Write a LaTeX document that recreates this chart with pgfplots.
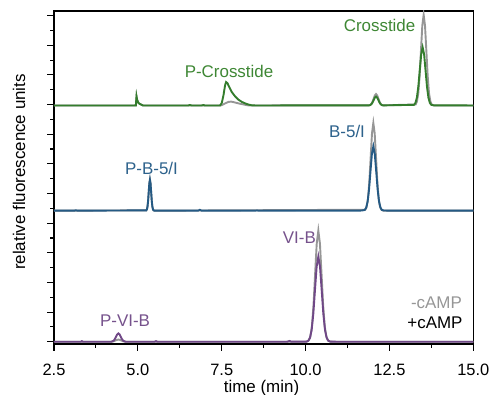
\documentclass[border=0pt]{standalone}
\usepackage{pgfplots}
\pgfplotsset{compat=1.18}
\usepackage{fontspec}
\setmainfont{Liberation Sans}
\definecolor{cgreen}{RGB}{52,125,45}
\definecolor{cblue}{RGB}{37,90,132}
\definecolor{cpurple}{RGB}{112,72,135}
\definecolor{cgray}{RGB}{150,150,150}
\definecolor{tgreen}{RGB}{62,135,52}
\definecolor{tblue}{RGB}{45,98,140}
\definecolor{tpurple}{RGB}{118,82,140}
\begin{document}
\begin{tikzpicture}
\useasboundingbox (0,0) rectangle (489bp,395bp);
\begin{axis}[
  at={(54bp,51bp)}, anchor=south west,
  scale only axis, width=419.3bp, height=333bp,
  xmin=2.5, xmax=15, ymin=-0.155, ymax=22.315,
  xtick={2.5,5,7.5,10,12.5,15}, minor x tick num=1,
  ytick={0,2,...,22}, minor y tick num=1, yticklabels={},
  xtick pos=bottom, ytick pos=left,
  tick align=outside,
  major tick length=6.5bp, minor tick length=3.5bp,
  every tick/.style={black, line width=1.1bp},
  axis line style={line width=1.2bp},
  /pgf/number format/assume math mode=true,
  x tick label style={yshift=-10bp, /pgf/number format/.cd, fixed, fixed zerofill, precision=1},
  tick label style={font=\fontsize{16.5}{19}\selectfont},
  label style={font=\fontsize{17}{20}\selectfont},
  xlabel={time (min)},
  ylabel={relative fluorescence units},
  xlabel style={at={(axis description cs:0.495,-0.132)}, anchor=center},
  ylabel style={at={(axis description cs:-0.0835,0.5165)}, anchor=center},
  clip=true,
]
% ---------- VI-B (purple) ----------
\addplot[cgray, line width=1.9bp] coordinates {
(2.5,0) (4.2,0) (4.28,0.03) (4.35,0.1) (4.42,0.15) (4.49,0.1) (4.56,0.03) (4.64,0)
(10.0,0) (10.044,0.015) (10.092,0.083) (10.14,0.33) (10.188,1.013) (10.236,2.438) (10.284,4.553) (10.332,6.615)
(10.38,7.5) (10.428,6.615) (10.476,4.553) (10.524,2.438) (10.572,1.013) (10.62,0.33) (10.668,0.083) (10.716,0.015)
(10.8,0) (15,0)};
\addplot[cpurple, line width=1.9bp] coordinates {
(2.5,0) (3.3,0) (3.33,0.04) (3.36,0) (4.21,0) (4.245,0.025) (4.28,0.076) (4.315,0.182) (4.35,0.34) (4.385,0.494)
(4.42,0.56) (4.455,0.494) (4.49,0.34) (4.525,0.182) (4.56,0.076) (4.595,0.025) (4.63,0)
(5.5,0) (5.54,0.04) (5.58,0) (9.45,0) (9.52,0.05) (9.58,0)
(10.03,0.01) (10.08,0.063) (10.13,0.253) (10.18,0.775) (10.23,1.866) (10.28,3.484) (10.33,5.063)
(10.38,5.74) (10.43,5.063) (10.48,3.484) (10.53,1.866) (10.58,0.775) (10.63,0.253) (10.68,0.063) (10.73,0.01)
(10.9,0) (15,0)};
% ---------- B-5/I (blue) ----------
\addplot[cgray, line width=1.9bp] coordinates {
(2.5,8.84) (5.252,8.863) (5.27,8.932) (5.288,9.124) (5.306,9.519) (5.324,10.109) (5.342,10.683) (5.36,10.93)
(5.378,10.683) (5.396,10.109) (5.414,9.519) (5.432,9.124) (5.45,8.932) (5.468,8.863) (5.5,8.84)
(11.78,8.905) (11.82,9.1) (11.86,9.639) (11.9,10.764) (11.94,12.433) (11.98,14.061) (12.02,14.76)
(12.06,14.061) (12.1,12.433) (12.14,10.764) (12.18,9.639) (12.22,9.1) (12.26,8.905) (12.32,8.84) (15,8.84)};
\addplot[cblue, line width=1.9bp] coordinates {
(2.5,8.84) (3.1,8.84) (3.15,8.87) (3.2,8.84)
(5.252,8.863) (5.27,8.932) (5.288,9.124) (5.306,9.519) (5.324,10.109) (5.342,10.683) (5.36,10.93)
(5.378,10.683) (5.396,10.109) (5.414,9.519) (5.432,9.124) (5.45,8.932) (5.468,8.863) (5.5,8.84)
(6.8,8.84) (6.85,8.9) (6.9,8.84) (8.5,8.84) (8.55,8.86) (8.6,8.84)
(11.6,8.84) (11.7,8.86) (11.762,8.888) (11.805,9.031) (11.848,9.426) (11.891,10.251) (11.934,11.474) (11.977,12.668)
(12.02,13.18) (12.063,12.668) (12.106,11.474) (12.149,10.251) (12.192,9.426) (12.235,9.031) (12.278,8.888)
(12.34,8.85) (15,8.84)};
% ---------- Crosstide (green) ----------
\addplot[cgray, line width=1.9bp] coordinates {
(2.5,15.94) (4.94,15.94) (4.96,16.55) (4.98,16.3) (5.02,16.1) (5.08,16.02) (5.15,15.94)
(7.45,15.94) (7.5,15.96) (7.6,16.08) (7.7,16.18) (7.78,16.2) (7.9,16.14) (8.0,16.08) (8.15,16.01) (8.3,15.94)
(11.89,15.948) (11.925,15.974) (11.96,16.044) (11.995,16.19) (12.03,16.407) (12.065,16.619) (12.1,16.71)
(12.135,16.619) (12.17,16.407) (12.205,16.19) (12.24,16.044) (12.275,15.974) (12.31,15.948)
(13.28,16.007) (13.32,16.209) (13.36,16.766) (13.4,17.929) (13.44,19.655) (13.48,21.338) (13.52,22.06)
(13.56,21.338) (13.6,19.655) (13.64,17.929) (13.68,16.766) (13.72,16.209) (13.76,16.007) (13.82,15.94) (15,15.94)};
\addplot[cgreen, line width=1.9bp] coordinates {
(2.5,15.94) (4.94,15.94) (4.96,16.55) (4.98,16.3) (5.02,16.1) (5.08,16.02) (5.15,15.94)
(6.5,15.94) (6.55,15.97) (6.6,15.94) (6.9,15.94) (6.95,15.97) (7.0,15.94)
(7.45,15.94) (7.5,16.1) (7.55,16.6) (7.6,17.3) (7.63,17.52) (7.67,17.45) (7.72,17.2) (7.8,16.85)
(7.9,16.55) (8.0,16.33) (8.1,16.18) (8.2,16.08) (8.3,16.0) (8.4,15.95) (8.5,15.94)
(11.89,15.947) (11.925,15.966) (11.96,16.021) (11.995,16.135) (12.03,16.304) (12.065,16.469) (12.1,16.54)
(12.135,16.469) (12.17,16.304) (12.205,16.135) (12.24,16.021) (12.275,15.966) (12.31,15.947)
(13.232,15.983) (13.275,16.112) (13.318,16.469) (13.361,17.214) (13.404,18.319) (13.447,19.397) (13.49,19.86)
(13.533,19.397) (13.576,18.319) (13.619,17.214) (13.662,16.469) (13.705,16.112) (13.748,15.983) (13.82,15.95) (15,15.94)};
% ---------- labels ----------
\begin{scope}[every node/.style={font=\fontsize{17}{20}\selectfont, inner sep=0pt}]
\node[tgreen] at (axis cs:12.205,21.32) {Crosstide};
\node[tgreen] at (axis cs:7.718,18.22) {P-Crosstide};
\node[tblue] at (axis cs:5.407,11.67) {P-B-5/I};
\node[tblue] at (axis cs:11.236,14.2) {B-5/I};
\node[tpurple] at (axis cs:9.814,7.05) {VI-B};
\node[tpurple] at (axis cs:4.617,1.417) {P-VI-B};
\node[cgray, anchor=east] at (axis cs:14.664,2.65) {-cAMP};
\node[black, anchor=east] at (axis cs:14.685,1.26) {+cAMP};
\end{scope}
\end{axis}
\end{tikzpicture}
\end{document}
